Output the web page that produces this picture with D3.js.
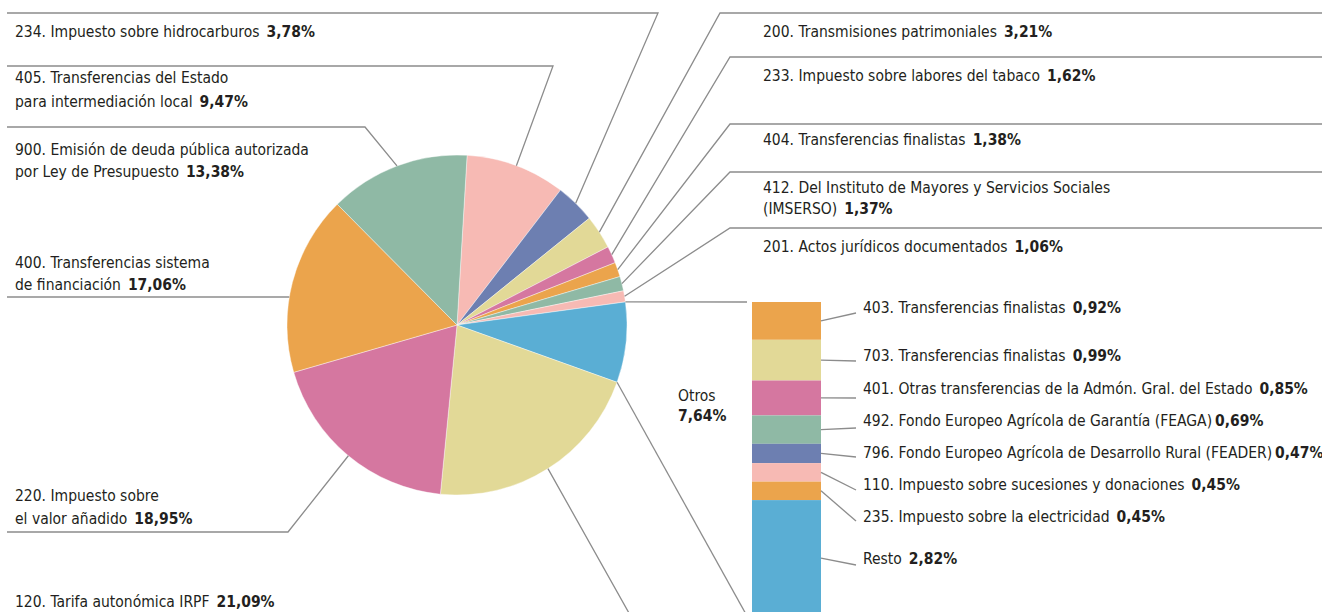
<!DOCTYPE html>
<html>
<head>
<meta charset="utf-8">
<script src="https://cdn.jsdelivr.net/npm/d3@7"></script>
<style>
  body { margin: 0; background: #fff; }
  svg { display: block; font-family: "DejaVu Sans Condensed", "Liberation Sans Narrow", sans-serif; }
  .lbl { font-size: 15.5px; fill: #231f20; }
  .val { font-weight: bold; }
  .leader { fill: none; stroke: #8c8c8c; stroke-width: 1.3; }
</style>
</head>
<body>
<div id="chart"></div>
<script>
// pie slices, clockwise from the top
var sliceNames = [
  ["405. Transferencias del Estado", "para intermediación local"],
  ["234. Impuesto sobre hidrocarburos"],
  ["200. Transmisiones patrimoniales"],
  ["233. Impuesto sobre labores del tabaco"],
  ["404. Transferencias finalistas"],
  ["412. Del Instituto de Mayores y Servicios Sociales", "(IMSERSO)"],
  ["201. Actos jurídicos documentados"],
  ["Otros"],
  ["120. Tarifa autonómica IRPF"],
  ["220. Impuesto sobre", "el valor añadido"],
  ["400. Transferencias sistema", "de financiación"],
  ["900. Emisión de deuda pública autorizada", "por Ley de Presupuesto"]
];
var sliceValues = [9.47, 3.78, 3.21, 1.62, 1.38, 1.37, 1.06, 7.64, 21.09, 18.95, 17.06, 13.38];
var sliceColors = ["#f7bab4", "#6d7fb1", "#e2d997", "#d577a0", "#eba44c", "#8fb9a5",
                   "#f7bab4", "#5aaed4", "#e2d997", "#d577a0", "#eba44c", "#8fb9a5"];

// breakdown of "Otros", top to bottom
var otrosNames = [
  "403. Transferencias finalistas",
  "703. Transferencias finalistas",
  "401. Otras transferencias de la Admón. Gral. del Estado",
  "492. Fondo Europeo Agrícola de Garantía (FEAGA)",
  "796. Fondo Europeo Agrícola de Desarrollo Rural (FEADER)",
  "110. Impuesto sobre sucesiones y donaciones",
  "235. Impuesto sobre la electricidad",
  "Resto"
];
var otrosValues = [0.92, 0.99, 0.85, 0.69, 0.47, 0.45, 0.45, 2.82];
var otrosColors = ["#eba44c", "#e2d997", "#d577a0", "#8fb9a5", "#6d7fb1", "#f7bab4", "#eba44c", "#5aaed4"];

var W = 1322, H = 612;
var cx = 457, cy = 325, R = 170;
var startOffset = 3.4 * Math.PI / 180;

// where each slice label sits (same order as slices)
var labelLayout = [
  {side: "left",  lineY: 66,  elbowX: 553, textY: [83, 107]},
  {side: "left",  lineY: 13,  elbowX: 658, textY: [37]},
  {side: "right", lineY: 13,  elbowX: 720, textY: [37]},
  {side: "right", lineY: 57,  elbowX: 730, textY: [81]},
  {side: "right", lineY: 124, elbowX: 730, textY: [145]},
  {side: "right", lineY: 172, elbowX: 730, textY: [193, 214]},
  {side: "right", lineY: 228, elbowX: 730, textY: [252]},
  null,
  {side: "left",  lineY: 622, elbowX: 634, textY: [607]},
  {side: "left",  lineY: 532, elbowX: 288, textY: [501, 524]},
  {side: "left",  lineY: 297, elbowX: null, textY: [268, 290]},
  {side: "left",  lineY: 127, elbowX: 365, textY: [155, 177]}
];

// stacked bar layout
var barX = 752, barW = 69, barTop = 302, pxPerPct = 41.1;
var barTextY = [313, 361, 394, 426, 458, 490, 522, 564];
var barLineY = [313, 361, 398, 428, 457, 490, 521, 565];
var barGap = [7, 7, 7, 3, 3, 7, 7, 7];

function fmt(v) {
  return d3.format(".2f")(v).replace(".", ",") + "%";
}

var svg = d3.select("#chart").append("svg")
  .attr("width", W)
  .attr("height", H);

var pie = d3.pie()
  .sort(null)
  .startAngle(startOffset)
  .endAngle(startOffset + 2 * Math.PI);

var arcs = pie(sliceValues);

var arc = d3.arc().innerRadius(0).outerRadius(R);
var rim = d3.arc().innerRadius(R).outerRadius(R);

var g = svg.append("g").attr("transform", "translate(" + cx + "," + cy + ")");

g.selectAll("path")
  .data(arcs)
  .enter()
  .append("path")
  .attr("d", arc)
  .style("fill", (d, i) => sliceColors[i])
  .style("stroke", "#fff")
  .style("stroke-width", 0.4);

// point on the pie rim at a given angle
function rimPoint(a) {
  return [cx + R * Math.sin(a), cy - R * Math.cos(a)];
}

// leader lines + labels for the pie slices
arcs.forEach(function(d, i) {
  var lay = labelLayout[i];
  if (!lay) return;
  var c = rim.centroid(d);
  var p = [cx + c[0], cy + c[1]];
  var edgeX = lay.side === "left" ? 7 : W;
  var path;
  if (lay.elbowX === null) {
    // straight line that stops at the rim
    var dy = lay.lineY - cy;
    var x = cx - Math.sqrt(R * R - dy * dy);
    path = "M" + edgeX + "," + lay.lineY + "H" + x;
  } else {
    path = "M" + edgeX + "," + lay.lineY + "H" + lay.elbowX + "L" + p[0] + "," + p[1];
  }
  svg.append("path").attr("class", "leader").attr("d", path);

  var tx = lay.side === "left" ? 15 : 763;
  var names = sliceNames[i];
  names.forEach(function(line, j) {
    var t = svg.append("text")
      .attr("class", "lbl")
      .attr("x", tx)
      .attr("y", lay.textY[j]);
    t.append("tspan").text(line);
    if (j === names.length - 1) {
      t.append("tspan").attr("class", "val").attr("dx", 7).text(fmt(sliceValues[i]));
    }
  });
});

// "Otros" slice opens into the stacked bar
var otrosIdx = 7;
var otrosArc = arcs[otrosIdx];
var total = d3.sum(otrosValues);
var yBar = d3.scaleLinear()
  .domain([0, total])
  .range([barTop, barTop + total * pxPerPct]);

var pTop = rimPoint(otrosArc.startAngle);
var pBot = rimPoint(otrosArc.endAngle);
svg.append("path").attr("class", "leader")
  .attr("d", "M" + pTop[0] + "," + pTop[1] + "L" + (barX - 5) + "," + yBar(0));
svg.append("path").attr("class", "leader")
  .attr("d", "M" + pBot[0] + "," + pBot[1] + "L" + (barX - 5) + "," + yBar(total));

var ends = d3.cumsum(otrosValues);
var starts = ends.map((e, i) => e - otrosValues[i]);

svg.selectAll(".seg")
  .data(otrosValues)
  .enter()
  .append("rect")
  .attr("class", "seg")
  .attr("x", barX)
  .attr("width", barW)
  .attr("y", (v, i) => yBar(starts[i]))
  .attr("height", (v, i) => yBar(ends[i]) - yBar(starts[i]))
  .style("fill", (v, i) => otrosColors[i]);

otrosValues.forEach(function(v, i) {
  var mid = yBar((starts[i] + ends[i]) / 2);
  svg.append("path").attr("class", "leader")
    .attr("d", "M" + (barX + barW) + "," + mid + "L" + (barX + barW + 35) + "," + barLineY[i]);
  var t = svg.append("text")
    .attr("class", "lbl")
    .attr("x", 863)
    .attr("y", barTextY[i]);
  t.append("tspan").text(otrosNames[i]);
  t.append("tspan").attr("class", "val").attr("dx", barGap[i]).text(fmt(v));
});

// "Otros" caption beside the bar
svg.append("text").attr("class", "lbl").attr("x", 678).attr("y", 401).text(sliceNames[otrosIdx][0]);
svg.append("text").attr("class", "lbl val").attr("x", 678).attr("y", 421).text(fmt(sliceValues[otrosIdx]));
</script>
</body>
</html>
